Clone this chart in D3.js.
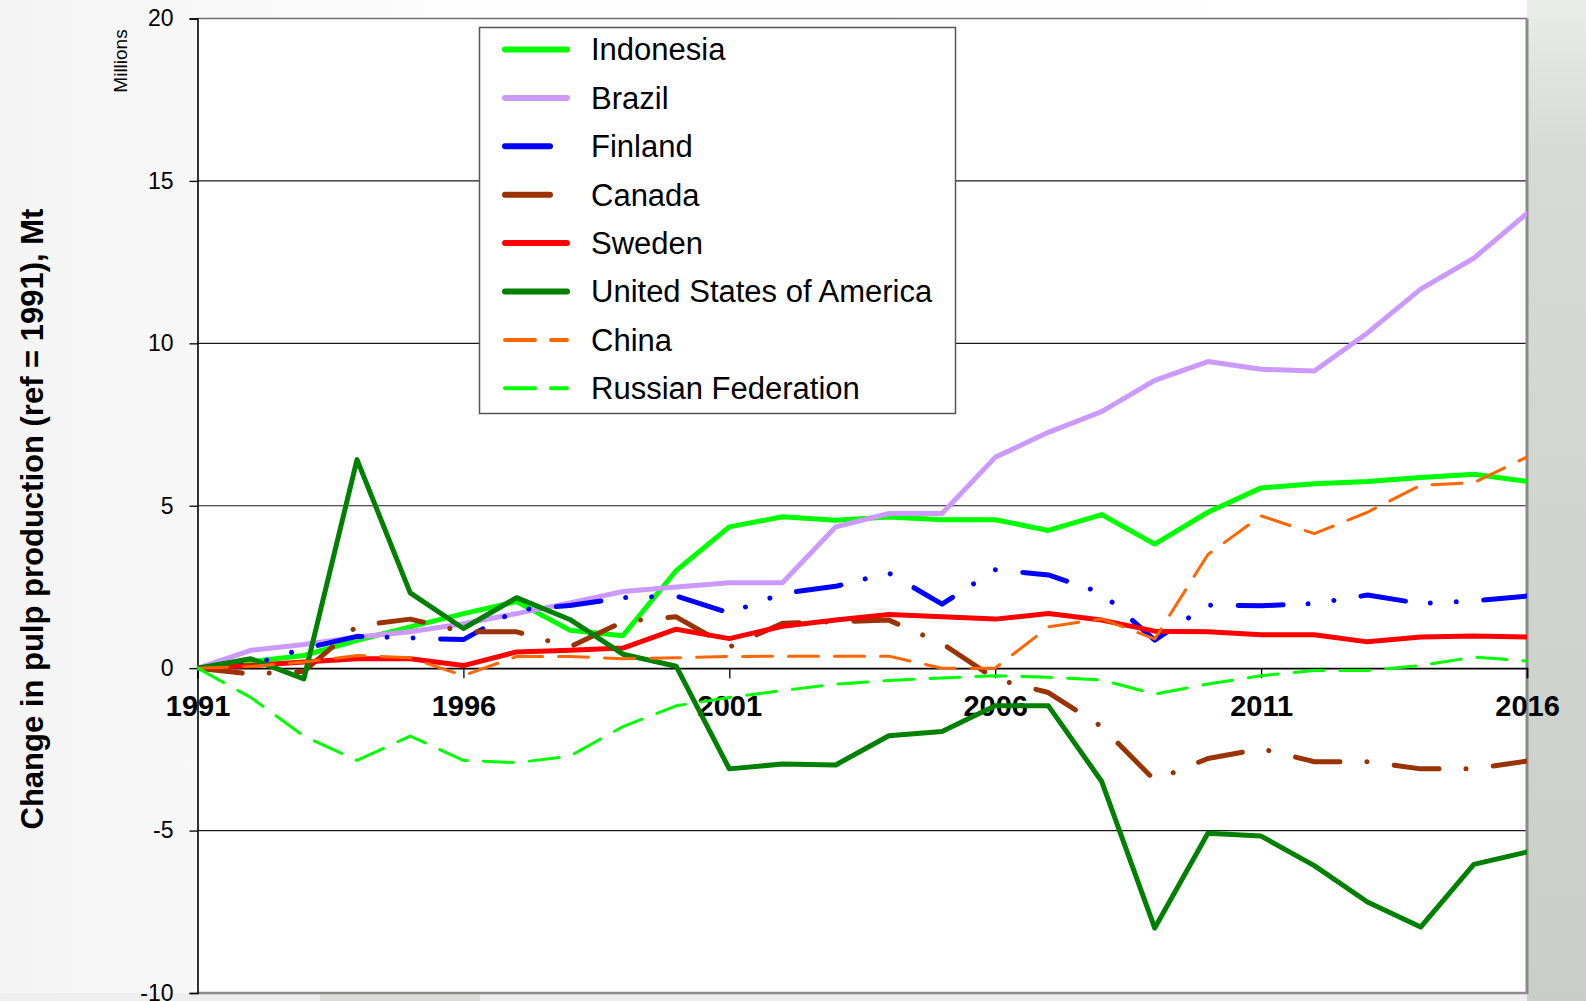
<!DOCTYPE html>
<html>
<head>
<meta charset="utf-8">
<script src="https://cdn.jsdelivr.net/npm/d3@7"></script>
<style>
  html, body { margin: 0; padding: 0; background: #ffffff; }
  svg { display: block; font-family: "Liberation Sans", Arial, sans-serif; }
</style>
</head>
<body>
<svg id="chart" width="1586" height="1001"></svg>
<script>
// ---------- data ----------
const years = d3.range(1991, 2017);
const seriesNames = ["Indonesia", "Brazil", "Finland", "Canada", "Sweden",
  "United States of America", "China", "Russian Federation"];

const indonesia = [0, 0.2, 0.39, 0.86, 1.27, 1.68, 2.05, 1.17, 1.0, 3.0, 4.35, 4.66, 4.55, 4.65, 4.57, 4.57, 4.24, 4.73, 3.82, 4.8, 5.55, 5.68, 5.75, 5.87, 5.97, 5.75];
const brazil = [0, 0.55, 0.73, 0.96, 1.12, 1.37, 1.68, 2.01, 2.36, 2.5, 2.63, 2.63, 4.35, 4.76, 4.76, 6.49, 7.26, 7.9, 8.86, 9.44, 9.2, 9.15, 10.32, 11.67, 12.62, 14.0];
const finland = [0, 0.1, 0.6, 0.98, 0.93, 0.88, 1.79, 1.93, 2.17, 2.22, 1.7, 2.3, 2.52, 2.93, 1.97, 3.03, 2.87, 2.32, 0.86, 1.94, 1.92, 1.99, 2.25, 1.99, 2.07, 2.22];
const canada = [0, -0.18, -0.1, 1.3, 1.51, 1.12, 1.12, 0.65, 1.43, 1.58, 0.65, 1.38, 1.43, 1.48, 0.76, -0.33, -0.75, -1.8, -3.45, -2.78, -2.48, -2.88, -2.88, -3.1, -3.1, -2.86];
const sweden = [0, 0.08, 0.19, 0.29, 0.29, 0.08, 0.5, 0.55, 0.62, 1.2, 0.91, 1.29, 1.48, 1.65, 1.58, 1.51, 1.68, 1.48, 1.14, 1.12, 1.03, 1.03, 0.81, 0.96, 0.99, 0.96];
const usa = [0, 0.29, -0.33, 6.42, 2.32, 1.22, 2.17, 1.5, 0.43, 0.06, -3.1, -2.95, -2.98, -2.08, -1.95, -1.16, -1.16, -3.48, -8.0, -5.08, -5.17, -6.08, -7.2, -7.97, -6.04, -5.66];
const china = [0, 0.05, 0.19, 0.39, 0.32, -0.23, 0.36, 0.36, 0.29, 0.32, 0.36, 0.37, 0.37, 0.37, 0.0, 0.0, 1.27, 1.52, 0.9, 3.5, 4.69, 4.14, 4.8, 5.63, 5.71, 6.5];
const russia = [0, -0.9, -2.09, -2.84, -2.09, -2.84, -2.91, -2.71, -1.8, -1.16, -0.9, -0.69, -0.49, -0.38, -0.3, -0.23, -0.28, -0.36, -0.8, -0.49, -0.23, -0.07, -0.07, 0.08, 0.34, 0.22];

const yTicks = [-10, -5, 0, 5, 10, 15, 20];
const xTicks = [1991, 1996, 2001, 2006, 2011, 2016];
const yTitle = "Change in pulp production (ref = 1991), Mt";
const unitLabel = "Millions";

// ---------- styles ----------
const styles = [
  { color: "#00ff00", width: 5, dash: null },
  { color: "#cc99ff", width: 5, dash: null },
  { color: "#0000ff", width: 5, dash: "45,25,0.01,26,0.01,27.5" },
  { color: "#993300", width: 5, dash: "45,27,0.01,27.5" },
  { color: "#ff0000", width: 5, dash: null },
  { color: "#008000", width: 5, dash: null },
  { color: "#ff6600", width: 3, dash: "30,16" },
  { color: "#00ff00", width: 3, dash: "30,16" }
];
const values = [indonesia, brazil, finland, canada, sweden, usa, china, russia];

// ---------- layout ----------
const svg = d3.select("#chart");
const L = 197.5, R = 1527, T = 18.5, B = 993;
const x = d3.scaleLinear().domain([1991, 2016]).range([L, R]);
const y = d3.scaleLinear().domain([-10, 20]).range([B, T]);

// background
const defs = svg.append("defs");
const g1 = defs.append("linearGradient").attr("id", "bgR").attr("x1", 0).attr("y1", 0).attr("x2", 0).attr("y2", 1);
g1.append("stop").attr("offset", "0").attr("stop-color", "#e9ece9");
g1.append("stop").attr("offset", "0.15").attr("stop-color", "#d6dbd6");
g1.append("stop").attr("offset", "1").attr("stop-color", "#c9cec9");
const g2 = defs.append("linearGradient").attr("id", "bgL").attr("x1", 0).attr("y1", 0).attr("x2", 1).attr("y2", 0);
g2.append("stop").attr("offset", "0").attr("stop-color", "#f4f4f4");
g2.append("stop").attr("offset", "0.3").attr("stop-color", "#fdfdfd");
g2.append("stop").attr("offset", "1").attr("stop-color", "#ffffff");
svg.append("rect").attr("width", 1586).attr("height", 1001).attr("fill", "url(#bgL)");
svg.append("rect").attr("x", R).attr("y", 0).attr("width", 1586 - R).attr("height", 1001).attr("fill", "url(#bgR)");
svg.append("rect").attr("x", 0).attr("y", B).attr("width", R).attr("height", 1001 - B).attr("fill", "#eeeeee");
svg.append("rect").attr("x", 320).attr("y", B).attr("width", 160).attr("height", 1001 - B).attr("fill", "#dcdcd6");

// plot area
svg.append("rect").attr("x", L).attr("y", T).attr("width", R - L).attr("height", B - T).attr("fill", "#ffffff");

// gridlines
svg.append("g").selectAll("line").data(yTicks.filter(v => v !== 0 && v !== 20 && v !== -10)).join("line")
  .attr("x1", L).attr("x2", R).attr("y1", d => y(d)).attr("y2", d => y(d))
  .attr("stroke", "#1a1a1a").attr("stroke-width", 1.2);

// frame: top, right, bottom in grey
svg.append("line").attr("x1", L).attr("x2", R).attr("y1", T).attr("y2", T).attr("stroke", "#707070").attr("stroke-width", 1.5);
svg.append("line").attr("x1", R).attr("x2", R).attr("y1", T).attr("y2", B + 1).attr("stroke", "#8a8a8a").attr("stroke-width", 3);
svg.append("line").attr("x1", L).attr("x2", R).attr("y1", B).attr("y2", B).attr("stroke", "#8a8a8a").attr("stroke-width", 2.5);

// y axis
const yAxis = d3.axisLeft(y).tickValues(yTicks).tickSize(8).tickPadding(16).tickFormat(d => String(d));
const yG = svg.append("g").attr("transform", `translate(${L},0)`).call(yAxis);
yG.select(".domain").attr("stroke", "#000").attr("stroke-width", 1.6);
yG.selectAll(".tick line").attr("stroke", "#000").attr("stroke-width", 1.3);
yG.selectAll(".tick text").attr("font-size", 23).attr("fill", "#000")
  .attr("font-family", "'Liberation Sans', Arial, sans-serif");

// x axis at zero
const xAxis = d3.axisBottom(x).tickValues(xTicks).tickSize(10).tickPadding(17).tickFormat(d => String(d));
const xG = svg.append("g").attr("transform", `translate(0,${y(0)})`).call(xAxis);
xG.select(".domain").attr("stroke", "#000").attr("stroke-width", 1.6);
xG.selectAll(".tick line").attr("stroke", "#000").attr("stroke-width", 1.3);
xG.selectAll(".tick text").attr("font-size", 29).attr("font-weight", "bold").attr("fill", "#000")
  .attr("font-family", "'Liberation Sans', Arial, sans-serif");

// clip
defs.append("clipPath").attr("id", "clip").append("rect")
  .attr("x", L).attr("y", T).attr("width", R - L).attr("height", B - T);

// lines
const line = d3.line().x((d, i) => x(years[i])).y(d => y(d));
const linesG = svg.append("g").attr("clip-path", "url(#clip)");
values.forEach((vals, k) => {
  const s = styles[k];
  linesG.append("path").datum(vals).attr("d", line)
    .attr("fill", "none").attr("stroke", s.color).attr("stroke-width", s.width)
    .attr("stroke-linejoin", "round").attr("stroke-linecap", "round")
    .attr("stroke-dasharray", s.dash);
});

// legend
const lg = svg.append("g");
lg.append("rect").attr("x", 479.5).attr("y", 27.5).attr("width", 476).attr("height", 386)
  .attr("fill", "#ffffff").attr("stroke", "#555").attr("stroke-width", 1.5);
seriesNames.forEach((name, k) => {
  const s = styles[k];
  const cy = 49.5 + k * 48.4;
  lg.append("line").attr("x1", 505).attr("x2", 567).attr("y1", cy).attr("y2", cy)
    .attr("stroke", s.color).attr("stroke-width", s.width + 1)
    .attr("stroke-linecap", "round").attr("stroke-dasharray", s.dash);
  lg.append("text").attr("x", 591).attr("y", cy).attr("dy", "0.35em")
    .attr("font-size", 31).attr("fill", "#000").text(name);
});

// axis titles
svg.append("text").attr("transform", "translate(43,519) rotate(-90)")
  .attr("text-anchor", "middle").attr("font-size", 31).attr("font-weight", "bold")
  .attr("fill", "#000").text(yTitle);
svg.append("text").attr("transform", "translate(127,61) rotate(-90)")
  .attr("text-anchor", "middle").attr("font-size", 19).attr("fill", "#000").text(unitLabel);
</script>
</body>
</html>
